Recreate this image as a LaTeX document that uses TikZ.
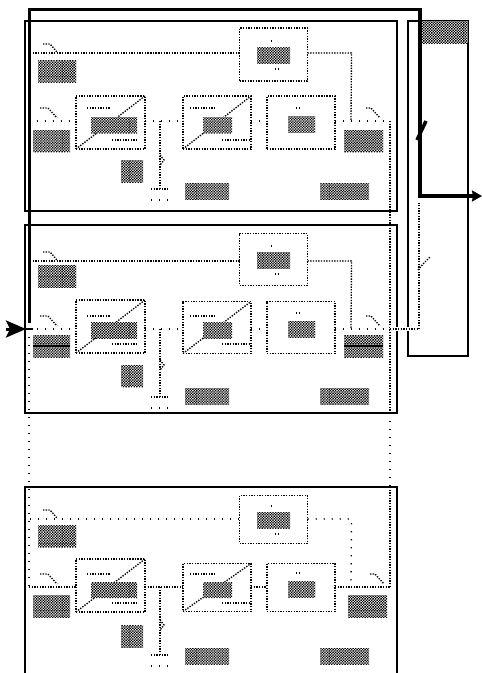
\documentclass[tikz,border=0pt]{standalone}
\usepackage{tikz}
\usetikzlibrary{arrows.meta,positioning,patterns}

\pgfdeclarepatternformonly{dither}{\pgfqpoint{-.1pt}{-.1pt}}{\pgfqpoint{2.8pt}{2.8pt}}{\pgfqpoint{2.67pt}{2.67pt}}{
  \pgfpathrectangle{\pgfqpoint{0pt}{0pt}}{\pgfqpoint{1.34pt}{1.34pt}}
  \pgfpathrectangle{\pgfqpoint{1.33pt}{1.33pt}}{\pgfqpoint{1.34pt}{1.34pt}}
  \pgfusepath{fill}}

\begin{document}
\begin{tikzpicture}[
      x=1pt,y=-1pt,
      wire/.style={line width=1.35pt,dash pattern=on 1.35pt off 1.32pt},
      sparse/.style={line width=1.35pt,dash pattern=on 1.35pt off 6.65pt},
      frame/.style={draw,line width=1.3pt,inner sep=0pt,outer sep=0pt},
      block/.style={draw,wire,inner sep=0pt,outer sep=0pt},
      greek/.style 2 args={preaction={fill=white},pattern=dither,anchor=north west,
                  inner sep=0pt,outer sep=0pt,minimum width=#1,minimum height=#2},
      bus/.style={line width=3.2pt,-{Stealth[length=10pt,width=11pt,inset=1pt]}},
      halo/.style={preaction={draw,white,solid,line width=4pt}}]
    \useasboundingbox (0,0) rectangle (482,673);

    % the two closed stages, the third runs off the page
    \node[frame,minimum width=372pt,minimum height=190pt] (stagea) at (211,116) {};
    \node[frame,minimum width=372pt,minimum height=188pt] (stageb) at (211,319) {};
    \coordinate (cutl) at (25,673);
    \coordinate (cutr) at (397,673);
    \draw[line width=1.3pt] (cutl) -- (25,487) -- (397,487) -- (cutr);

    \node[frame,minimum width=60pt,minimum height=335pt] (tail) at (438,188.5) {};
    \node[greek={47pt}{22pt}] (tailword) at (421,21) {};

    \foreach \n/\dy/\dt/\dr/\hb/\rx/\wa/\wb in
        {a/0/0/0/53/344/wire/sparse,
         b/204/205/208/52/344/wire/sparse,
         c/463/465/466/48/348/sparse/wire} {
      \coordinate (port\n) at (29,121+\dr);
      \coordinate (feed\n) at (30,53+\dr);
      \coordinate (merge\n) at (390,121+\dr);
      \coordinate (drop\n) at (351,121+\dr);
      \coordinate (tee\n) at (160,121+\dr);
      \coordinate (gnd\n) at (160,189+\dr);

      \node[block,minimum width=68pt,minimum height=\hb pt] (gain\n) at (273.5,54.5+\dt) {};
      \node[block,minimum width=69pt,minimum height=53pt] (amp\n) at (110.5,122.5+\dy) {};
      \node[block,minimum width=68pt,minimum height=\hb pt] (mix\n) at (217,122.5+\dt) {};
      \node[block,right=16pt of mix\n,minimum width=68pt,minimum height=\hb pt] (filter\n) {};

      % feed lines and the row through the blocks
      \draw[\wa] (feed\n) -- (gain\n.west |- feed\n);
      \draw[\wa] (gain\n.east |- feed\n) -- ++(44,0) -- (drop\n);
      \draw[\wb] (port\n) -- (amp\n.west |- port\n);
      \draw[\wb] (amp\n.east |- port\n) -- (mix\n.west |- port\n);
      \draw[\wb] (mix\n.east |- port\n) -- (filter\n.west |- port\n);
      \draw[\wb] (filter\n.east |- port\n) -- (merge\n);
      \draw[wire] (tee\n) -- (gnd\n);
      \draw[wire] ([xshift=-9pt]gnd\n) -- ([xshift=9pt]gnd\n);
      \draw[sparse] ([xshift=-9pt,yshift=-11pt]gnd\n) -- ([xshift=9pt,yshift=-11pt]gnd\n);

      % marks on the lines and inside the blocks
      \draw[wire] (43,44+\dr) -- ++(7,0) -- ++(7,8);
      \draw[wire] (40,108+\dr) -- ++(8,0) -- ++(9,10);
      \draw[wire] (\rx+22,108+\dr) -- ++(5,0) -- ++(9,10);
      \draw[wire] (amp\n.south west) -- (amp\n.north east);
      \draw[wire] (mix\n.south west) -- (mix\n.north east);
      \draw[wire] (87,108+\dr) -- ++(23,0);
      \draw[wire] (112,140+\dy) -- ++(26,0);
      \draw[wire] (190,108+\dr) -- ++(26,0);
      \draw[wire] (222,140+\dy) -- ++(28,0);
      \draw[wire] (296,108+\dt) -- ++(5,0);
      \draw[wire] (271,41+\dt) -- ++(2,0);
      \draw[wire] (275,69+\dt) -- ++(5,0);
      \draw[wire] (160,155+\dt) -- ++(4,5) -- ++(-4,5);

      % greeked words
      \node[greek={38pt}{22pt}] (wordtop\n) at (38,60+\dt) {};
      \node[greek={37pt}{22pt}] (wordin\n) at (33,130+\dt) {};
      \node[greek={46pt}{16pt}] (wordamp\n) at (91,117+\dt) {};
      \node[greek={29pt}{16pt}] (wordmix\n) at (203,117+\dt) {};
      \node[greek={27pt}{16pt}] (wordfilter\n) at (288,116+\dt) {};
      \node[greek={33pt}{16pt}] (wordgain\n) at (257,47+\dt) {};
      \node[greek={39pt}{22pt}] (wordout\n) at (\rx,130+\dt) {};
      \node[greek={22pt}{22pt}] (wordgnd\n) at (121,160+\dt) {};
      \node[greek={44pt}{16pt}] (wordbotl\n) at (185,183+\dt) {};
      \node[greek={49pt}{16pt}] (wordbotr\n) at (320,183+\dt) {};
    }

    % lines through the two greeked words of the middle stage
    \draw[line width=1.3pt] (wordinb.west) -- (wordinb.east);
    \draw[line width=1.3pt] (wordoutb.west) -- (wordoutb.east);

    % buses between the stages
    \coordinate (mergestop) at (390,413);
    \coordinate (mergego) at (390,487);
    \draw[sparse] (portb) -- (portc);
    \draw[wire] (mergea) -- (mergestop);
    \draw[sparse] (mergestop) -- (mergego);
    \draw[wire] (mergego) -- (mergec);

    % from the middle stage into the tail box
    \coordinate (rise) at (419,329);
    \coordinate (tailtop) at (419,203);
    \draw[wire,halo] (mergeb) -- (rise);
    \draw[wire] (rise) -- (tailtop);
    \draw[wire] (418,270) -- (424,263) -- (430,257);

    % heavy loop
    \coordinate (lead) at (29.5,9.5);
    \coordinate (turn) at (420,9.5);
    \coordinate (outlet) at (482,196);
    \coordinate (inlet) at (6,329);
    \coordinate (entry) at (26,329);
    \coordinate (stub) at (33,329);
    \coordinate (loopend) at (29.5,323);
    \draw[bus] (loopend) -- (lead) -- (turn) |- (outlet);
    \draw[line width=3.5pt] (417,140) -- (426,121);
    \draw[line width=1.3pt] (entry) -- (stub);
    \draw[line width=3pt,-{Stealth[length=20pt,width=17pt,inset=4pt]}] (inlet) -- (entry);
  \end{tikzpicture}
\end{document}
